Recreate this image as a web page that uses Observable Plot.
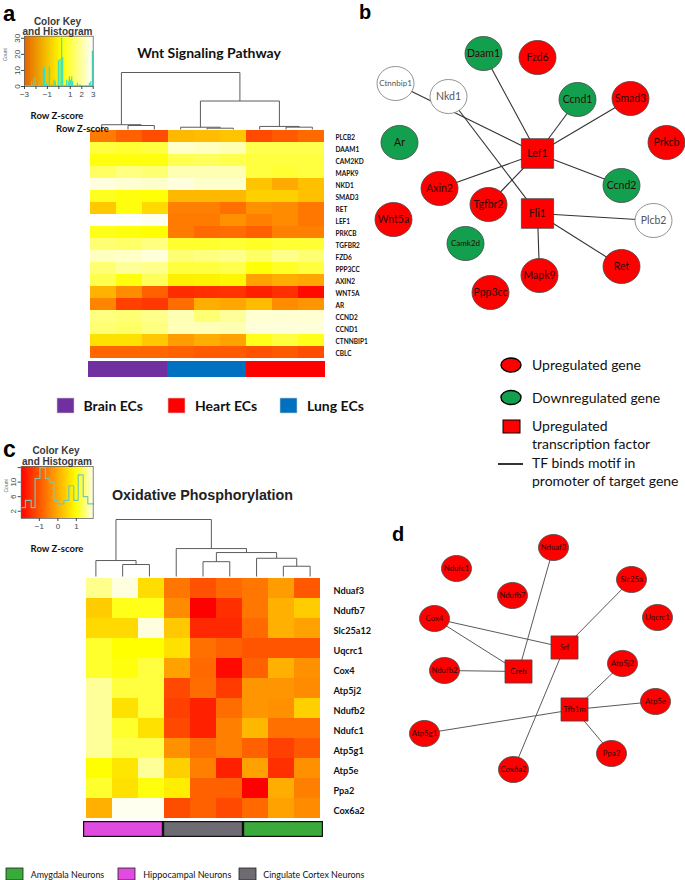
<!DOCTYPE html>
<html><head><meta charset="utf-8">
<script src="https://cdn.jsdelivr.net/npm/d3@7"></script>
<script src="https://cdn.jsdelivr.net/npm/@observablehq/plot@0.6"></script>
<style>
html,body{margin:0;padding:0;background:#fff;}
#fig{position:relative;width:685px;height:880px;overflow:hidden;background:#fff;}
#fig>div{position:absolute;line-height:0;}
</style></head><body><div id="fig"></div>
<script>
// ================= DATA =================
// Panel a: Wnt heatmap (row z-scores)
const wntGenes = ["PLCB2","DAAM1","CAM2KD","MAPK9","NKD1","SMAD3","RET","LEF1","PRKCB","TGFBR2","FZD6","PPP3CC","AXIN2","WNT5A","AR","CCND2","CCND1","CTNNBIP1","CBLC"];
const wntSamples = ["Brain 1","Brain 2","Brain 3","Lung 1","Lung 2","Lung 3","Heart 1","Heart 2","Heart 3"];
const wntSampleGroup = ["Brain ECs","Brain ECs","Brain ECs","Lung ECs","Lung ECs","Lung ECs","Heart ECs","Heart ECs","Heart ECs"];
const wntZ = [
  [-0.56,-0.87,-1.10, 0.16,0.21,0.31, -1.13,-0.94,-0.75],
  [1.25,1.20,1.25, 1.80,1.75,1.70, 1.30,1.30,1.30],
  [1.05,1.05,1.05, 1.30,1.35,1.30, 1.25,1.25,1.25],
  [1.38,1.50,1.45, 1.70,1.70,1.70, 1.25,1.20,1.25],
  [1.88,1.82,1.80, 1.88,1.80,1.80, 0.31,0.00,0.26],
  [1.12,1.05,1.02, 0.16,0.16,0.16, 0.45,0.45,0.26],
  [0.35,1.05,0.55, -0.50,-0.50,-0.68, -0.30,-0.35,-0.60],
  [2.00,1.98,1.94, -0.55,-0.55,-0.30, -0.50,-0.35,-0.60],
  [1.10,1.05,1.00, -0.55,-0.75,-0.72, -0.87,-0.50,-0.50],
  [1.45,1.40,1.50, 1.18,1.18,1.20, 1.15,1.20,1.20],
  [1.75,1.78,1.85, 1.45,1.50,1.55, 1.40,1.55,1.45],
  [1.45,1.60,1.55, 1.25,1.25,1.30, 1.03,1.15,1.25],
  [1.30,1.05,1.35, 0.82,0.85,0.90, -0.10,0.03,-0.05],
  [0.10,-0.35,-0.87, -1.48,-1.45,-1.40, -1.62,-1.45,-1.90],
  [-0.45,-1.25,-1.35, -0.72,0.03,-0.05, 0.20,-0.35,-0.25],
  [1.50,1.45,1.55, 1.70,1.45,1.60, 1.82,1.82,1.82],
  [1.45,1.40,1.50, 1.72,1.72,1.70, 1.85,1.85,1.85],
  [0.65,0.65,0.35, -0.15,0.03,-0.10, 1.10,1.25,1.10],
  [-0.80,-0.80,-0.80, -0.87,-0.94,-0.94, -1.05,-0.95,-1.10]
];
// column dendrogram (hclust style merges: negative = leaf column)
const wntMerge = [[-2,-3],[-1,1],[-5,-6],[-4,3],[-8,-9],[-7,5],[4,6],[2,7]];
const wntMergeHeight = [0.07,0.084,0.023,0.04,0.041,0.054,0.5,1];
const wntGroupNames = ["Brain ECs","Heart ECs","Lung ECs"];
const wntGroupFill = ["#7030a0","#ff0000","#0070c0"];
// colour key histogram (a)
const wntKeyZ = [-2.33,-2.16,-2.01,-1.66,-1.31,-1.22,-1.02,-0.79,-0.58,-0.38,-0.26,0.00,0.15,0.29,0.38,0.73,0.87,0.96,1.08,1.17,1.25,1.66,1.89,2.71,2.83,2.97];
const wntKeyCount = [3,5,6,1,11,12,2,12,1,4,3,16,17,30,18,4,3,6,4,6,3,2,1,2,3,22];
const wntKeyTicks = [-3,-2,-1,0,1,2,3];
const wntKeyTickLabels = [-3,-1,1,2,3];
const wntKeyCountTicks = [0,10,20,30];

// Panel b: network
const wntNodes = ["Daam1","Fzd6","Ctnnbip1","Nkd1","Ccnd1","Smad3","Ar","Prkcb","Lef1","Axin2","Ccnd2","Tgfbr2","Fli1","Wnt5a","Plcb2","Camk2d","Ret","Mapk9","Ppp3cc"];
const wntNodeType = ["down","up","none","none","down","up","down","up","tf","up","down","up","tf","up","none","down","up","up","up"];
const wntNodeX = [143,197,55,108,237,290,59,326,197,99,281,148,197,53,313,125,281,199,150];
const wntNodeY = [53,57,83,96,99,98,142,142,153,188,185,204,213,219,220,243,266,275,292];
const wntEdges = [["Lef1","Ctnnbip1"],["Lef1","Daam1"],["Lef1","Ccnd1"],["Lef1","Smad3"],["Lef1","Axin2"],["Lef1","Tgfbr2"],["Lef1","Ccnd2"],
                  ["Fli1","Nkd1"],["Fli1","Plcb2"],["Fli1","Ret"],["Fli1","Mapk9"]];
const nodeTypeNames = ["up","down","none"];
const nodeTypeFill = ["#ff0000","#13a04e","#ffffff"];
const legendBLabels = ["Upregulated gene","Downregulated gene","Upregulated\ntranscription factor","TF binds motif in\npromoter of target gene"];

// Panel c: oxidative phosphorylation heatmap
const oxGenes = ["Nduaf3","Ndufb7","Slc25a12","Uqcrc1","Cox4","Atp5j2","Ndufb2","Ndufc1","Atp5g1","Atp5e","Ppa2","Cox6a2"];
const oxSamples = ["Hip 1","Hip 2","Hip 3","Cg 1","Cg 2","Cg 3","Amy 1","Amy 2","Amy 3"];
const oxSampleGroup = ["Hippocampal Neurons","Hippocampal Neurons","Hippocampal Neurons","Cingulate Cortex Neurons","Cingulate Cortex Neurons","Cingulate Cortex Neurons","Amygdala Neurons","Amygdala Neurons","Amygdala Neurons"];
const oxZ = [
  [1.55,1.88,0.60, -0.60,-1.05,-0.77, -0.60,-0.15,-0.96],
  [0.40,1.10,1.10, -0.35,-2.00,-1.45, -0.60,0.07,0.40],
  [0.55,0.55,1.88, 0.35,-1.53,-1.53, -0.77,0.07,-0.10],
  [1.18,1.00,1.00, 0.65,-0.68,-0.87, -1.00,-1.00,-1.00],
  [1.18,1.05,1.25, -0.10,-0.77,-1.90, -0.87,0.07,-0.30],
  [1.60,1.25,1.25, -1.15,-0.73,-1.30, -0.25,-0.25,-0.35],
  [1.60,0.65,1.25, -1.25,-1.62,-0.73, -0.25,-0.30,0.45],
  [1.60,1.18,0.65, -1.15,-1.62,-0.50, 0.16,-0.68,-0.68],
  [1.60,1.30,1.30, -0.30,-0.73,-0.50, -0.87,-1.25,-0.96],
  [1.00,0.70,1.60, 0.45,-0.50,-1.62, -0.10,-1.45,-0.30],
  [1.18,0.65,1.05, 0.80,-0.87,-0.87, -2.00,0.03,-0.50],
  [0.07,1.94,1.94, -1.10,-0.87,-1.15, -0.77,-0.10,-0.35]
];
const oxMerge = [[-2,-3],[-1,1],[-5,-6],[-8,-9],[-7,4],[3,5],[-4,6],[2,7]];
const oxMergeHeight = [0.21,0.28,0.26,0.18,0.32,0.42,0.49,1];
const oxGroupNames = ["Amygdala Neurons","Hippocampal Neurons","Cingulate Cortex Neurons"];
const oxGroupFill = ["#3aaa3a","#e04ce0","#6e6b73"];
const oxKeyBreaks = [-1.98,-1.75,-1.44,-1.23,-0.97,-0.67,-0.45,-0.22,0,0.32,0.59,0.86,1.10,1.37,1.62,1.91];
const oxKeyCounts = [3,5,3,11,14,11,10,5,4,5,9,5,12,6,4];
const oxKeyTicks = [-1,0,1];
const oxKeyCountTicks = [2,6,10,14];
const oxKeyCountLabels = [2,6,10];

// Panel d: network
const oxNodes = ["Nduaf3","Ndufc1","Slc25a","Ndufb7","Uqcrc1","Cox4","Srf","Atp5j2","Ndufb2","Creb","Atp5e","Tfb1m","Atp5g1","Ppa2","Cox6a2"];
const oxNodeType = ["up","up","up","up","up","up","tf","up","up","tf","up","tf","up","up","up"];
const oxNodeX = [213,116,291,172,317,94,224,282,104,178,315,234,84,271,173];
const oxNodeY = [27,48,59,75,97,98,127,143,150,151,181,189,213,233,249];
const oxEdges = [["Creb","Nduaf3"],["Creb","Cox4"],["Creb","Ndufb2"],["Srf","Cox4"],["Srf","Slc25a"],["Srf","Cox6a2"],
                 ["Tfb1m","Atp5j2"],["Tfb1m","Atp5e"],["Tfb1m","Ppa2"],["Tfb1m","Atp5g1"]];

// ================= HELPERS =================
const fig = document.getElementById("fig");
function put(el, left, top) {
  const d = document.createElement("div");
  d.style.left = left + "px"; d.style.top = top + "px";
  d.appendChild(el); fig.appendChild(d);
}
const baseStyle = {background: "none", overflow: "visible", maxWidth: "none", fontFamily: "Lato, sans-serif", color: "#111"};
const heat = {type: "linear", domain: [-2, 1, 2], range: ["#ff0000", "#ffff00", "#ffffff"], interpolate: "rgb", clamp: true};
const minus = d => d < 0 ? "\u2212" + (-d) : String(d);

function dendro(merge, heights) {
  const pos = [], segs = [];
  merge.forEach(([a, b], k) => {
    const pa = a < 0 ? {x: -a - 0.5, h: 0} : pos[a - 1];
    const pb = b < 0 ? {x: -b - 0.5, h: 0} : pos[b - 1];
    const h = heights[k];
    segs.push({x1: pa.x, y1: pa.h, x2: pa.x, y2: h}, {x1: pb.x, y1: pb.h, x2: pb.x, y2: h}, {x1: pa.x, y1: h, x2: pb.x, y2: h});
    pos.push({x: (pa.x + pb.x) / 2, h});
  });
  return segs;
}
function ellipseSym(kx, ky) {
  return {draw(ctx, size) {
    const r = Math.sqrt(size / Math.PI), rx = r * kx, ry = r * ky, k = 0.5523;
    ctx.moveTo(rx, 0);
    ctx.bezierCurveTo(rx, ry * k, rx * k, ry, 0, ry);
    ctx.bezierCurveTo(-rx * k, ry, -rx, ry * k, -rx, 0);
    ctx.bezierCurveTo(-rx, -ry * k, -rx * k, -ry, 0, -ry);
    ctx.bezierCurveTo(rx * k, -ry, rx, -ry * k, rx, 0);
    ctx.closePath();
  }};
}
function rectSym(kx, ky) {
  return {draw(ctx, size) {
    const r = Math.sqrt(size / Math.PI), w = r * kx, h = r * ky;
    ctx.moveTo(-w, -h); ctx.lineTo(w, -h); ctx.lineTo(w, h); ctx.lineTo(-w, h); ctx.closePath();
  }};
}

// ---------- heatmap ----------
function heatmap(genes, samples, Z, w, h, right, fontSize, dy) {
  const cells = genes.flatMap((g, i) => samples.map((s, j) => ({gene: g, sample: s, z: Z[i][j]})));
  return Plot.plot({
    width: w + right, height: h, margin: 0, marginRight: right,
    x: {domain: samples, padding: 0, axis: null},
    y: {domain: genes, padding: 0},
    color: heat,
    style: {...baseStyle, fontSize: fontSize + "px", fontWeight: "bold"},
    marks: [
      Plot.cell(cells, {x: "sample", y: "gene", fill: "z", shapeRendering: "crispEdges"}),
      Plot.axisY({anchor: "right", tickSize: 0, tickPadding: 10, label: null, dy})
    ]
  });
}
function groupBar(sampleGroup, names, fills, w, stroke) {
  const groups = [...new Set(sampleGroup)].map(g => ({group: g}));
  return Plot.plot({
    width: w, height: 16, margin: 0,
    x: {domain: groups.map(d => d.group), padding: 0, axis: null},
    color: {domain: names, range: fills},
    style: baseStyle,
    marks: [Plot.cell(groups, {x: "group", fill: "group", stroke: stroke || null, strokeWidth: 1.2, inset: stroke ? 0.6 : 0})]
  });
}
function dendroPlot(merge, heights, w) {
  return Plot.plot({
    width: w, height: 59, margin: 0,
    x: {domain: [0, 9], range: [0, w], axis: null},
    y: {domain: [0, 1], range: [58, 1], axis: null},
    style: baseStyle,
    marks: [Plot.link(dendro(merge, heights), {x1: "x1", y1: "y1", x2: "x2", y2: "y2", stroke: "#5c5c5c", strokeWidth: 1})]
  });
}

// ---------- network ----------
function network(names, types, xs, ys, edges, opt) {
  const nodes = names.map((id, i) => ({id, type: types[i], x: xs[i], y: ys[i]}));
  const pos = new Map(nodes.map(d => [d.id, d]));
  const genes = nodes.filter(d => d.type !== "tf"), tfs = nodes.filter(d => d.type === "tf");
  return Plot.plot({
    width: 345, height: 310, margin: 0,
    x: {domain: [0, 345], range: [0, 345], axis: null},
    y: {domain: [0, 310], range: [0, 310], axis: null},
    color: {domain: nodeTypeNames, range: nodeTypeFill},
    style: baseStyle,
    marks: [
      Plot.link(edges, {x1: e => pos.get(e[0]).x, y1: e => pos.get(e[0]).y, x2: e => pos.get(e[1]).x, y2: e => pos.get(e[1]).y,
        stroke: opt.edge, strokeWidth: opt.edgeWidth}),
      Plot.dot(genes, {x: "x", y: "y", r: opt.r, symbol: ellipseSym(1, opt.ky), fill: "type", stroke: d => d.type === "none" ? "#777" : "#444", strokeWidth: 0.8}),
      Plot.dot(tfs, {x: "x", y: "y", r: opt.r, symbol: rectSym(opt.tfx, opt.tfy), fill: "#ff0000", stroke: "#444", strokeWidth: 0.8}),
      Plot.text(genes.filter(d => d.type !== "none"), {x: "x", y: "y", text: "id", fill: "#2a0808", fontFamily: "Lato, sans-serif",
        fontSize: d => opt.small.includes(d.id) ? opt.smallSize : opt.fontSize}),
      Plot.text(genes.filter(d => d.type === "none"), {x: "x", y: "y", text: "id", fill: "#555", fontFamily: "Lato, sans-serif",
        fontSize: d => opt.small.includes(d.id) ? opt.smallSize : opt.fontSize}),
      Plot.text(tfs, {x: "x", y: "y", text: "id", fill: "#2a0808", fontFamily: "Lato, sans-serif", fontSize: opt.fontSize})
    ]
  });
}

// ---------- colour keys ----------
function keyA() {
  const ramp = d3.range(-3, 3, 0.05).map(v => ({v}));
  const ymax = 31.3;
  return Plot.plot({
    width: 100, height: 95, marginLeft: 24, marginRight: 7.3, marginTop: 20.7, marginBottom: 24,
    x: {domain: [-3, 3]}, y: {domain: [0, ymax]},
    color: {type: "linear", domain: [-3, 0.3, 3], range: ["#e46400", "#ffff00", "#ffffff"], interpolate: "rgb"},
    style: {...baseStyle, fontFamily: "'Liberation Sans', Arial, sans-serif", fontSize: "8px", color: "#444"},
    marks: [
      Plot.rect(ramp, {x1: "v", x2: d => d.v + 0.05, y1: 0, y2: ymax, fill: "v", shapeRendering: "crispEdges"}),
      Plot.ruleY([0.4], {stroke: "#2fe0c8", strokeWidth: 1.2}),
      Plot.rectY(wntKeyZ.map((z, i) => ({z, n: wntKeyCount[i]})), {x1: d => d.z - 0.05, x2: d => d.z + 0.05, y: "n", fill: "#2fe0c8"}),
      Plot.frame({stroke: "#666", strokeWidth: 0.8}),
      Plot.axisX({ticks: wntKeyTicks, tickFormat: d => wntKeyTickLabels.includes(d) ? minus(d) : "", tickSize: 3, tickPadding: 2, label: null}),
      Plot.axisY({ticks: wntKeyCountTicks, tickSize: 3, tickPadding: 2, tickRotate: -90, label: null}),
      Plot.text(["Count"], {frameAnchor: "left", dx: -19, rotate: -90, fontSize: 5, fill: "#666"})
    ]
  });
}
function keyC() {
  const ramp = d3.range(-1.98, 1.91, 0.03).map(v => ({v}));
  const ymax = 14.3;
  const pts = oxKeyBreaks.map((b, i) => ({z: b, n: oxKeyCounts[Math.min(i, oxKeyCounts.length - 1)]}));
  return Plot.plot({
    width: 100, height: 105, marginLeft: 20.7, marginRight: 7.3, marginTop: 26, marginBottom: 27,
    x: {domain: [-1.98, 1.91]}, y: {domain: [0, ymax]},
    color: heat,
    style: {...baseStyle, fontFamily: "'Liberation Sans', Arial, sans-serif", fontSize: "8px", color: "#444"},
    marks: [
      Plot.rect(ramp, {x1: "v", x2: d => Math.min(d.v + 0.03, 1.91), y1: 0, y2: ymax, fill: "v", shapeRendering: "crispEdges"}),
      Plot.line(pts, {x: "z", y: "n", curve: "step-after", stroke: "#74c9b4", strokeWidth: 1.2}),
      Plot.frame({stroke: "#666", strokeWidth: 0.8}),
      Plot.axisX({ticks: oxKeyTicks, tickFormat: minus, tickSize: 3, tickPadding: 2, label: null}),
      Plot.axisY({ticks: oxKeyCountTicks, tickFormat: d => oxKeyCountLabels.includes(d) ? String(d) : "", tickSize: 3, tickPadding: 2, tickRotate: -90, label: null}),
      Plot.text(["Count"], {frameAnchor: "left", dx: -15, rotate: -90, fontSize: 5, fill: "#666"})
    ]
  });
}

// ================= ASSEMBLE =================
put(keyA(), 0, 15);
put(dendroPlot(wntMerge, wntMergeHeight, 237), 88, 71);
put(heatmap(wntGenes, wntSamples, wntZ, 237, 228, 60, 6.5, 1.5), 88, 130);
put(groupBar(wntSampleGroup, wntGroupNames, wntGroupFill, 237, null), 88, 361);
put(network(wntNodes, wntNodeType, wntNodeX, wntNodeY, wntEdges,
  {edge: "#333", edgeWidth: 1.1, r: 18.5, ky: 0.92, tfx: 0.87, tfy: 0.8, fontSize: 10.5, smallSize: 8, small: ["Ctnnbip1", "Camk2d"]}), 340, 0);

put(keyC(), 0, 440);
put(dendroPlot(oxMerge, oxMergeHeight, 241), 82, 518);
put(heatmap(oxGenes, oxSamples, oxZ, 241, 240, 70, 9.2, 3), 82, 578);
put(groupBar(oxSampleGroup, oxGroupNames, oxGroupFill, 241, "#111"), 82, 821);
put(network(oxNodes, oxNodeType, oxNodeX, oxNodeY, oxEdges,
  {edge: "#5a5a5a", edgeWidth: 1, r: 15, ky: 0.87, tfx: 0.9, tfy: 0.77, fontSize: 7.8, smallSize: 7.8, small: []}), 340, 520);

// ---------- overlay: titles, labels, legends ----------
const svg = d3.create("svg").attr("width", 685).attr("height", 880).style("overflow", "visible");
const ARIAL = "'Liberation Sans', Arial, sans-serif", LATO = "Lato, sans-serif";
function txt(x, y, s, o = {}) {
  const t = svg.append("text").attr("x", x).attr("y", y).text(s)
    .attr("font-family", o.family || LATO).attr("font-size", o.size || 10).attr("font-weight", o.weight || "normal")
    .attr("text-anchor", o.anchor || "start").attr("fill", o.fill || "#111");
  if (o.length) t.attr("textLength", o.length).attr("lengthAdjust", "spacingAndGlyphs");
}
// panel letters
txt(3, 20.5, "a", {family: ARIAL, size: 22, weight: "bold", fill: "#000"});
txt(359, 18.5, "b", {family: ARIAL, size: 20, weight: "bold", fill: "#000"});
txt(3, 457, "c", {family: ARIAL, size: 23, weight: "bold", fill: "#000"});
txt(392, 541, "d", {family: ARIAL, size: 20, weight: "bold", fill: "#000"});
// key titles
txt(57.5, 25, "Color Key", {family: ARIAL, size: 10, weight: "bold", anchor: "middle", fill: "#3a3a3a"});
txt(57.5, 35, "and Histogram", {family: ARIAL, size: 10, weight: "bold", anchor: "middle", fill: "#3a3a3a"});
txt(57, 119, "Row Z-score", {size: 9.5, weight: "bold", anchor: "middle"});
txt(82.5, 131.5, "Row Z-score", {size: 9.5, weight: "bold", anchor: "middle"});
txt(56, 454, "Color Key", {family: ARIAL, size: 10, weight: "bold", anchor: "middle", fill: "#3a3a3a"});
txt(57, 465, "and Histogram", {family: ARIAL, size: 10, weight: "bold", anchor: "middle", fill: "#3a3a3a"});
txt(57, 552, "Row Z-score", {size: 9.5, weight: "bold", anchor: "middle"});
// main titles
txt(209, 57.5, "Wnt Signaling Pathway", {size: 14, weight: "bold", anchor: "middle"});
txt(202.5, 500, "Oxidative Phosphorylation", {family: ARIAL, size: 14.3, weight: "bold", anchor: "middle", fill: "#222"});
// legend a
const legAX = [[57, 83.5], [168, 195], [280, 307]];
wntGroupNames.forEach((g, i) => {
  svg.append("rect").attr("x", legAX[i][0]).attr("y", 398).attr("width", 17).attr("height", 15).attr("fill", wntGroupFill[i]).attr("stroke", "#ccc").attr("stroke-width", 0.6);
  txt(legAX[i][1], 410.7, g, {size: 14, weight: "bold"});
});
// legend b
svg.append("ellipse").attr("cx", 511).attr("cy", 365).attr("rx", 10).attr("ry", 7).attr("fill", nodeTypeFill[0]).attr("stroke", "#000").attr("stroke-width", 1.4);
svg.append("ellipse").attr("cx", 511).attr("cy", 397.5).attr("rx", 10).attr("ry", 7).attr("fill", nodeTypeFill[1]).attr("stroke", "#000").attr("stroke-width", 1.4);
svg.append("rect").attr("x", 503).attr("y", 420).attr("width", 17).attr("height", 13).attr("fill", "#ff0000").attr("stroke", "#000").attr("stroke-width", 1);
svg.append("line").attr("x1", 498).attr("x2", 523).attr("y1", 464).attr("y2", 464).attr("stroke", "#000").attr("stroke-width", 1.6);
const legBY = [[370], [403.3], [431, 449.3], [467.7, 485.7]];
legendBLabels.forEach((s, i) => s.split("\n").forEach((line, j) => txt(532, legBY[i][j], line, {size: 14})));
// legend c
const legCX = [[6, 30.7, 73.5], [118, 143.3, 88], [239, 263.3, 101]];
oxGroupNames.forEach((g, i) => {
  svg.append("rect").attr("x", legCX[i][0]).attr("y", 868).attr("width", 17).attr("height", 12).attr("fill", oxGroupFill[i]).attr("stroke", "#222").attr("stroke-width", 0.8);
  txt(legCX[i][1], 877.5, g, {size: 10, length: legCX[i][2]});
});
put(svg.node(), 0, 0);
</script></body></html>
